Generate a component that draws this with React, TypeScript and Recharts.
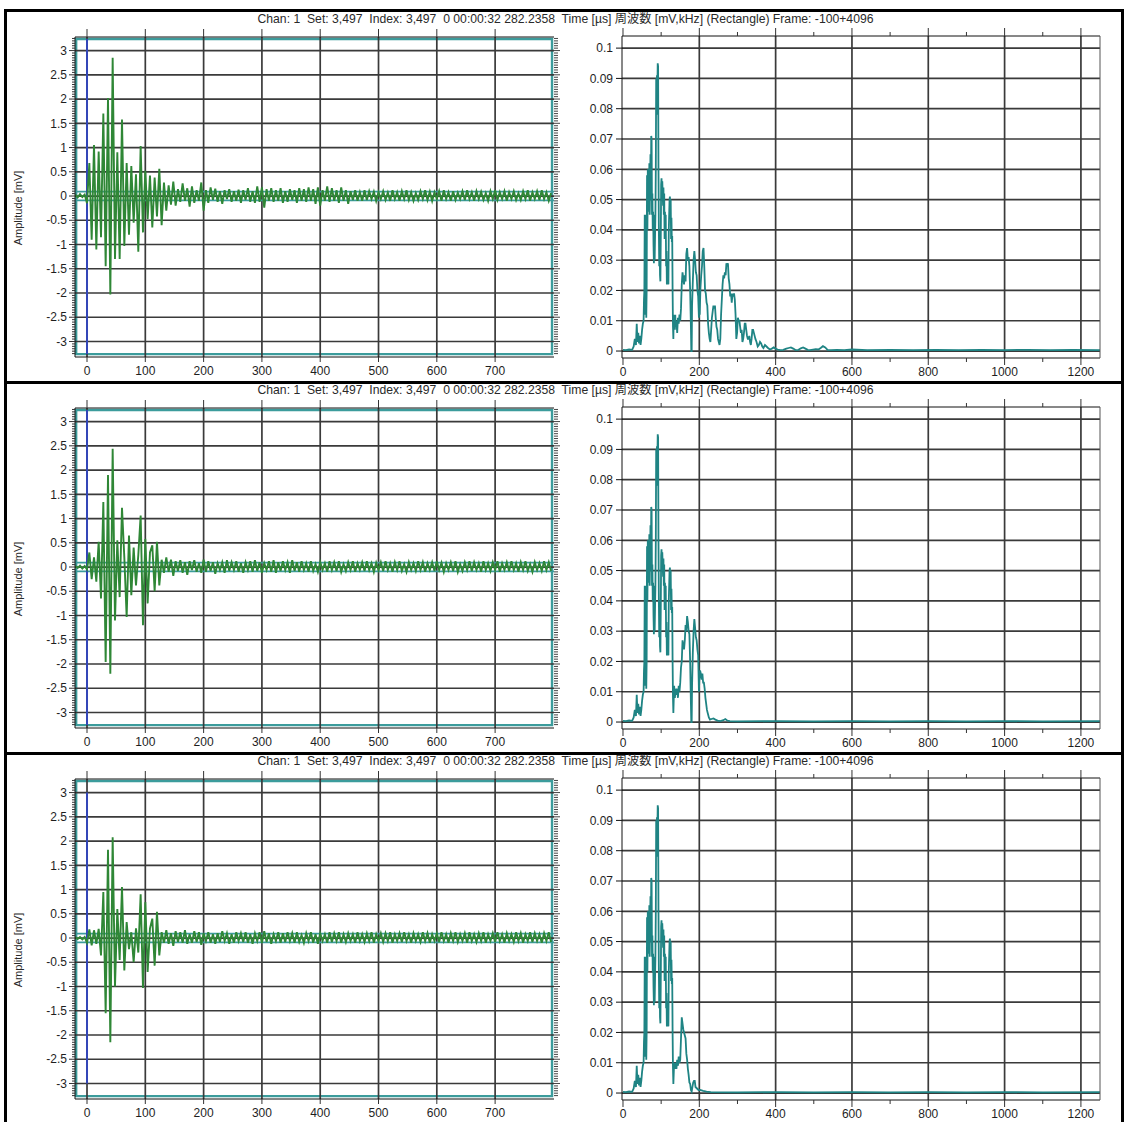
import React from "react";
import {
  Line,
  LineChart,
  ReferenceArea,
  ReferenceLine,
  XAxis,
  YAxis,
} from "recharts";

const FONT = "'Liberation Sans', Arial, 'Noto Sans CJK JP', sans-serif";

const TITLE =
  "Chan: 1  Set: 3,497  Index: 3,497  0 00:00:32 282.2358  Time [µs] 周波数 [mV,kHz] (Rectangle) Frame: -100+4096";

// Axis ticks
const TIME_TICKS = [0, 100, 200, 300, 400, 500, 600, 700];
const AMP_TICKS = [-3, -2.5, -2, -1.5, -1, -0.5, 0, 0.5, 1, 1.5, 2, 2.5, 3];
const FREQ_TICKS = [0, 100, 200, 300, 400, 500, 600, 700, 800, 900, 1000, 1100, 1200];
const FREQ_GRID = [200, 400, 600, 800, 1000, 1200];
const LEVEL_TICKS = [0, 0.01, 0.02, 0.03, 0.04, 0.05, 0.06, 0.07, 0.08, 0.09, 0.1];
// ruler marks every 0.05 mV along both sides of the waveform plot
const AMP_RULER = Array.from({ length: 131 }, (_, k) => Math.round((k - 65) * 5) / 100);

// Waveforms, mV, one sample every WAVE_DT µs starting at WAVE_T0
const WAVE_T0 = -20;
const WAVE_DT = 4;

const wave1 = [
  0.03, -0.03, 0.04, -0.02, 0.03, -0.15, 0.68, -0.9, 1.05, -1.1,
  0.92, -0.85, 1.7, -1.45, 2.02, -2.03, 2.85, -1.3, 0.9, -1.3,
  1.58, -1.03, 0.68, -0.8, 0.62, -0.55, 0.45, -1.15, 1.03, -0.75,
  0.52, -0.48, 0.42, -0.65, 0.38, -0.42, 0.56, -0.6, 0.28, -0.3,
  0.22, -0.18, 0.3, -0.2, 0.14, -0.12, 0.26, -0.1, 0.16, -0.22,
  0.2, -0.14, 0.12, -0.1, 0.28, -0.3, 0.12, -0.14, 0.18, -0.08,
  0.15, -0.12, 0.1, -0.16, 0.12, -0.06, 0.14, -0.12, 0.1, -0.1,
  0.13, -0.14, 0.12, -0.08, 0.16, -0.12, 0.1, -0.14, 0.2, -0.12,
  0.18, -0.24, 0.14, -0.1, 0.16, -0.12, 0.12, -0.1, 0.16, -0.14,
  0.1, -0.12, 0.14, -0.08, 0.12, -0.14, 0.16, -0.1, 0.14, -0.12,
  0.18, -0.1, 0.14, -0.16, 0.18, -0.2, 0.12, -0.1, 0.2, -0.12,
  0.16, -0.1, 0.12, -0.14, 0.18, -0.1, 0.12, -0.16, 0.1, -0.08,
  0.12, -0.1, 0.08, -0.1, 0.12, -0.08, 0.1, -0.06, 0.09, -0.1,
  0.08, -0.06, 0.1, -0.08, 0.07, -0.1, 0.12, -0.06, 0.08, -0.1,
  0.1, -0.06, 0.12, -0.08, 0.08, -0.1, 0.06, -0.08, 0.1, -0.06,
  0.12, -0.08, 0.09, -0.1, 0.08, -0.06, 0.1, -0.1, 0.12, -0.06,
  0.08, -0.1, 0.1, -0.08, 0.07, -0.06, 0.1, -0.08, 0.12, -0.06,
  0.08, -0.1, 0.1, -0.06, 0.09, -0.08, 0.06, -0.1, 0.1, -0.06,
  0.12, -0.08, 0.08, -0.06, 0.1, -0.1, 0.08, -0.06, 0.1, -0.08,
  0.06, -0.08, 0.1, -0.06, 0.12, -0.1, 0.08, -0.06, 0.1, -0.08,
  0.12, -0.06, 0.08, -0.1, 0.06,
];

const wave2 = [
  0.02, -0.02, 0.03, -0.03, 0.02, -0.05, 0.3, -0.25, 0.2, -0.3,
  0.52, -0.65, 1.34, -1.96, 1.9, -2.2, 2.44, -1.1, 0.55, -0.62,
  1.22, 0.2, -1.03, 0.65, -0.58, 0.4, -0.38, 0.25, 1.06, -1.2,
  0.58, -0.75, 0.3, 0.45, -0.5, 0.52, -0.38, 0.15, -0.12, 0.2,
  -0.1, 0.15, -0.18, 0.12, -0.08, 0.14, -0.12, 0.1, -0.16, 0.12,
  -0.06, 0.14, -0.1, 0.08, -0.12, 0.15, -0.1, 0.12, -0.08, 0.1,
  -0.14, 0.08, -0.06, 0.1, -0.12, 0.14, -0.08, 0.1, -0.06, 0.12,
  -0.1, 0.08, -0.12, 0.1, -0.06, 0.12, -0.1, 0.14, -0.08, 0.1,
  -0.12, 0.08, -0.06, 0.12, -0.1, 0.14, -0.12, 0.1, -0.08, 0.12,
  -0.06, 0.1, -0.12, 0.14, -0.08, 0.1, -0.1, 0.12, -0.06, 0.08,
  -0.1, 0.12, -0.08, 0.06, -0.1, 0.1, -0.06, 0.08, -0.1, 0.12,
  -0.06, 0.1, -0.08, 0.12, -0.1, 0.06, -0.08, 0.1, -0.06, 0.12,
  -0.1, 0.08, -0.06, 0.1, -0.08, 0.12, -0.06, 0.08, -0.1, 0.09,
  -0.06, 0.1, -0.08, 0.12, -0.06, 0.08, -0.1, 0.1, -0.06, 0.12,
  -0.08, 0.06, -0.1, 0.1, -0.06, 0.08, -0.08, 0.12, -0.06, 0.1,
  -0.1, 0.08, -0.06, 0.1, -0.08, 0.12, -0.06, 0.09, -0.1, 0.08,
  -0.06, 0.1, -0.08, 0.12, -0.1, 0.06, -0.08, 0.1, -0.06, 0.12,
  -0.08, 0.1, -0.06, 0.08, -0.1, 0.12, -0.06, 0.08, -0.08, 0.1,
  -0.06, 0.12, -0.1, 0.08, -0.06, 0.1, -0.08, 0.12, -0.06, 0.08,
  -0.1, 0.1, -0.06, 0.12, -0.08, 0.06, -0.1, 0.1, -0.06, 0.08,
  -0.08, 0.12, -0.06, 0.1, -0.08,
];

const wave3 = [
  0.02, -0.02, 0.02, -0.03, 0.02, -0.1, 0.18, -0.15, 0.16, -0.12,
  0.19, -0.36, 0.95, -1.55, 1.82, -2.15, 2.08, -1.0, 0.6, -0.45,
  1.05, -0.67, 0.33, -0.23, 0.12, -0.5, 0.2, -0.3, 0.9, -1.03,
  0.74, -0.7, 0.2, 0.4, -0.57, 0.54, -0.36, 0.12, -0.1, 0.16,
  -0.12, 0.1, -0.16, 0.14, -0.08, 0.12, -0.1, 0.16, -0.12, 0.08,
  -0.1, 0.14, -0.08, 0.12, -0.14, 0.1, -0.06, 0.12, -0.1, 0.08,
  -0.12, 0.1, -0.08, 0.14, -0.06, 0.1, -0.12, 0.08, -0.1, 0.12,
  -0.06, 0.1, -0.08, 0.12, -0.1, 0.08, -0.12, 0.1, -0.06, 0.12,
  -0.1, 0.14, -0.08, 0.1, -0.12, 0.08, -0.06, 0.12, -0.1, 0.1,
  -0.08, 0.12, -0.06, 0.1, -0.1, 0.12, -0.08, 0.06, -0.1, 0.1,
  -0.06, 0.12, -0.1, 0.08, -0.12, 0.1, -0.06, 0.08, -0.1, 0.12,
  -0.08, 0.1, -0.06, 0.12, -0.1, 0.08, -0.08, 0.1, -0.06, 0.08,
  -0.1, 0.12, -0.06, 0.08, -0.08, 0.1, -0.06, 0.12, -0.1, 0.08,
  -0.06, 0.1, -0.08, 0.1, -0.06, 0.12, -0.1, 0.08, -0.06, 0.1,
  -0.08, 0.12, -0.06, 0.08, -0.1, 0.1, -0.06, 0.08, -0.08, 0.12,
  -0.06, 0.1, -0.1, 0.08, -0.06, 0.1, -0.08, 0.12, -0.06, 0.08,
  -0.1, 0.1, -0.06, 0.12, -0.08, 0.08, -0.06, 0.1, -0.1, 0.12,
  -0.06, 0.08, -0.08, 0.1, -0.06, 0.12, -0.1, 0.08, -0.06, 0.1,
  -0.08, 0.12, -0.06, 0.08, -0.1, 0.1, -0.06, 0.08, -0.08, 0.12,
  -0.06, 0.1, -0.1, 0.08, -0.06, 0.12, -0.08, 0.1, -0.06, 0.08,
  -0.1, 0.1, -0.06, 0.12, -0.08,
];

// Spectra, [kHz, mV]; the band below 130 kHz is common to all three hits
const SPEC_LOW_BAND: [number, number][] = [
  [0, 0.0004], [8, 0.0003], [16, 0.0005], [24, 0.0004], [28, 0.0015], [31, 0.004],
  [34, 0.002], [36, 0.009], [38, 0.003], [40, 0.006], [42, 0.0025], [44, 0.005],
  [46, 0.002], [48, 0.004], [50, 0.007], [52, 0.009], [54, 0.01], [55, 0.017],
  [56, 0.02], [57, 0.045], [58, 0.03], [59, 0.012], [60, 0.045], [61, 0.011],
  [62, 0.02], [63, 0.058], [64, 0.04], [65, 0.06], [66, 0.05], [67, 0.058],
  [68, 0.046], [69, 0.062], [70, 0.045], [71, 0.055], [72, 0.065], [73, 0.05],
  [74, 0.071], [75, 0.07], [76, 0.045], [77, 0.052], [78, 0.04], [79, 0.046],
  [80, 0.035], [81, 0.029], [82, 0.045], [83, 0.03], [84, 0.038], [85, 0.045],
  [86, 0.06], [87, 0.09], [88, 0.078], [89, 0.091], [90, 0.085], [91, 0.095],
  [92, 0.094], [93, 0.06], [94, 0.04], [95, 0.028], [96, 0.04], [97, 0.025],
  [98, 0.023], [99, 0.037], [100, 0.055], [101, 0.057], [102, 0.05], [103, 0.056],
  [104, 0.052], [105, 0.048], [106, 0.054], [107, 0.045], [108, 0.052], [109, 0.037],
  [110, 0.046], [111, 0.038], [112, 0.045], [113, 0.028], [114, 0.033], [115, 0.022],
  [117, 0.03], [119, 0.022], [120, 0.04], [122, 0.05], [123, 0.051], [124, 0.045],
  [125, 0.05], [126, 0.037], [127, 0.044], [128, 0.036], [129, 0.038], [130, 0.02],
];

const spec1High: [number, number][] = [
  [131, 0.008], [132, 0.004], [133, 0.012], [134, 0.008], [135, 0.011], [136, 0.007],
  [137, 0.012], [138, 0.008], [140, 0.01], [142, 0.006], [144, 0.011], [146, 0.009],
  [148, 0.012], [150, 0.01], [152, 0.014], [154, 0.022], [156, 0.026], [158, 0.024],
  [160, 0.022], [162, 0.025], [164, 0.023], [166, 0.032], [168, 0.034], [170, 0.03],
  [172, 0.031], [174, 0.028], [176, 0.02], [178, 0.008], [179, 0], [180, 0],
  [181, 0.015], [183, 0.023], [185, 0.03], [187, 0.033], [189, 0.03], [191, 0.026],
  [193, 0.025], [195, 0.02], [197, 0.018], [199, 0.011], [200, 0.02], [201, 0.012],
  [203, 0.021], [205, 0.025], [207, 0.028], [209, 0.033], [211, 0.034], [213, 0.028],
  [215, 0.02], [217, 0.019], [219, 0.016], [221, 0.015], [223, 0.009], [225, 0.006],
  [227, 0.004], [229, 0.003], [231, 0.007], [233, 0.011], [235, 0.013], [237, 0.015],
  [239, 0.014], [241, 0.015], [243, 0.011], [245, 0.008], [247, 0.007], [249, 0.004],
  [251, 0.003], [253, 0.002], [255, 0.004], [257, 0.012], [259, 0.017], [261, 0.022],
  [263, 0.025], [265, 0.024], [267, 0.026], [269, 0.025], [271, 0.029], [273, 0.028],
  [275, 0.029], [277, 0.024], [279, 0.022], [281, 0.018], [283, 0.019], [285, 0.016],
  [287, 0.019], [289, 0.018], [291, 0.019], [293, 0.017], [295, 0.012], [297, 0.004],
  [299, 0.006], [301, 0.011], [303, 0.01], [305, 0.01], [307, 0.008], [309, 0.006],
  [311, 0.007], [313, 0.003], [315, 0.004], [317, 0.006], [319, 0.009], [321, 0.009],
  [323, 0.007], [325, 0.005], [327, 0.004], [329, 0.004], [331, 0.005], [333, 0.003],
  [335, 0.002], [337, 0.004], [339, 0.007], [341, 0.007], [343, 0.006], [345, 0.005],
  [347, 0.004], [350, 0.003], [353, 0.0015], [356, 0.002], [359, 0.003], [362, 0.0025],
  [365, 0.0015], [368, 0.001], [372, 0.002], [376, 0.0015], [380, 0.001], [385, 0.0005],
  [390, 0.0008], [395, 0.0012], [400, 0.0008], [405, 0.0005], [412, 0.0003], [420, 0.0004],
  [428, 0.0008], [434, 0.001], [440, 0.0012], [446, 0.0008], [452, 0.0003], [460, 0.0004],
  [466, 0.0009], [472, 0.0012], [478, 0.0008], [484, 0.0004], [490, 0.0003], [498, 0.0005],
  [505, 0.0006], [512, 0.0005], [518, 0.001], [524, 0.0016], [530, 0.0012], [536, 0.0004],
  [545, 0.0003], [560, 0.0004], [580, 0.0003], [600, 0.0005], [640, 0.0003], [700, 0.0004],
  [760, 0.0003], [820, 0.0004], [880, 0.0003], [940, 0.0004], [1000, 0.0003], [1060, 0.0004],
  [1120, 0.0003], [1180, 0.0004], [1250, 0.0003],
];

const spec2High: [number, number][] = [
  [131, 0.008], [132, 0.003], [134, 0.012], [136, 0.008], [138, 0.011], [140, 0.009],
  [142, 0.011], [144, 0.008], [146, 0.012], [148, 0.01], [150, 0.013], [152, 0.018],
  [154, 0.02], [156, 0.027], [158, 0.025], [160, 0.024], [162, 0.027], [164, 0.032],
  [166, 0.03], [168, 0.035], [170, 0.033], [172, 0.03], [174, 0.029], [176, 0.02],
  [178, 0.006], [179, 0], [180, 0], [181, 0.012], [183, 0.023], [185, 0.03],
  [187, 0.034], [189, 0.031], [191, 0.028], [193, 0.027], [195, 0.024], [197, 0.022],
  [199, 0.01], [200, 0.014], [202, 0.017], [204, 0.016], [206, 0.014], [208, 0.016],
  [210, 0.013], [212, 0.013], [214, 0.011], [216, 0.008], [218, 0.006], [220, 0.004],
  [222, 0.003], [225, 0.0015], [228, 0.0008], [232, 0.001], [237, 0.0012], [242, 0.0008],
  [248, 0.0005], [255, 0.0003], [263, 0.0006], [268, 0.001], [273, 0.0005], [280, 0.0003],
  [300, 0.0002], [400, 0.0003], [500, 0.0002], [600, 0.0003], [700, 0.0002], [800, 0.0003],
  [900, 0.0002], [1000, 0.0003], [1100, 0.0002], [1250, 0.0003],
];

const spec3High: [number, number][] = [
  [131, 0.008], [132, 0.003], [134, 0.01], [136, 0.008], [138, 0.01], [140, 0.008],
  [142, 0.011], [144, 0.009], [146, 0.012], [148, 0.01], [150, 0.011], [152, 0.018],
  [154, 0.025], [156, 0.023], [158, 0.021], [160, 0.02], [162, 0.019], [164, 0.018],
  [166, 0.013], [168, 0.011], [170, 0.008], [172, 0.006], [174, 0.0035], [176, 0.003],
  [178, 0.001], [180, 0.0005], [182, 0.002], [184, 0.0035], [186, 0.004], [188, 0.004],
  [190, 0.002], [194, 0.0015], [198, 0.001], [202, 0.001], [210, 0.0007], [219, 0.0005],
  [230, 0.0003], [300, 0.0002], [400, 0.0003], [500, 0.0002], [600, 0.0003], [700, 0.0002],
  [800, 0.0003], [900, 0.0002], [1000, 0.0003], [1100, 0.0002], [1250, 0.0003],
];

const WAVE_GREEN = "#2f8736";
const FRAME_TEAL = "#3c9c9c";
const SPEC_TEAL = "#1f8484";
const GRID = "#3a3a3a";
const INK = "#1e1e1e";
const TICK_FONT = 12;

const TIME_DOMAIN: [number, number] = [-20.6, 801];
const AMP_DOMAIN: [number, number] = [-3.32, 3.28];
const FREQ_DOMAIN: [number, number] = [-2.6, 1250];
const LEVEL_DOMAIN: [number, number] = [-0.0023, 0.104];

const isHalf = (v: number) => Math.abs(v * 2 - Math.round(v * 2)) < 1e-6 && Math.abs(v) <= 3;

function AmpTick({ x, y, payload }: any) {
  const major = isHalf(payload.value);
  return (
    <g>
      <line x1={x - (major ? 6 : 3)} x2={x} y1={y} y2={y} stroke="#333" />
      {major && (
        <text x={x - 8} y={y} dy="0.35em" textAnchor="end" fontSize={TICK_FONT} fill={INK} fontFamily={FONT}>
          {String(payload.value)}
        </text>
      )}
    </g>
  );
}

function AmpRulerRight({ x, y, payload }: any) {
  const major = isHalf(payload.value);
  return <line x1={x} x2={x + (major ? 6 : 4)} y1={y} y2={y} stroke="#444" />;
}

function TimeTick({ x, y, payload }: any) {
  return (
    <g>
      <line x1={x} x2={x} y1={y} y2={y + 5} stroke="#333" />
      <text x={x} y={y + 9} dy="0.71em" textAnchor="middle" fontSize={TICK_FONT} fill={INK} fontFamily={FONT}>
        {payload.value}
      </text>
    </g>
  );
}

function TopTick({ x, y }: any) {
  return <line x1={x} x2={x} y1={y} y2={y - 8} stroke="#333" />;
}

function FreqTick({ x, y, payload }: any) {
  const major = payload.value % 200 === 0;
  return (
    <g>
      <line x1={x} x2={x} y1={y} y2={y + (major ? 7 : 4)} stroke="#333" />
      {major && (
        <text x={x} y={y + 9} dy="0.71em" textAnchor="middle" fontSize={TICK_FONT} fill={INK} fontFamily={FONT}>
          {payload.value}
        </text>
      )}
    </g>
  );
}

function FreqTopTick({ x, y, payload }: any) {
  const major = payload.value % 200 === 0;
  return <line x1={x} x2={x} y1={y} y2={y - (major ? 8 : 4)} stroke="#333" />;
}

function WaveChart({ values, markerSpan }: { values: number[]; markerSpan: [number, number] }) {
  const data = values.map((v, i) => ({ t: WAVE_T0 + i * WAVE_DT, v }));
  return (
    <LineChart width={564} height={385} data={data} margin={{ top: 28, right: 0, bottom: 0, left: 0 }}>
      <XAxis
        dataKey="t"
        type="number"
        domain={TIME_DOMAIN}
        ticks={TIME_TICKS}
        interval={0}
        allowDataOverflow
        height={28}
        tickLine={false}
        tickSize={0}
        tickMargin={0}
        tick={<TimeTick />}
        stroke="#111"
      />
      <XAxis
        xAxisId="top"
        orientation="top"
        dataKey="t"
        type="number"
        domain={TIME_DOMAIN}
        ticks={TIME_TICKS}
        interval={0}
        allowDataOverflow
        height={9}
        tickLine={false}
        tickSize={0}
        tickMargin={0}
        tick={<TopTick />}
        stroke="#111"
      />
      <YAxis
        type="number"
        domain={AMP_DOMAIN}
        ticks={AMP_RULER}
        interval={0}
        allowDataOverflow
        width={75}
        tickLine={false}
        tickSize={0}
        tickMargin={0}
        tick={<AmpTick />}
        stroke="#111"
      />
      <YAxis
        yAxisId="ruler"
        orientation="right"
        type="number"
        domain={AMP_DOMAIN}
        ticks={AMP_RULER}
        interval={0}
        allowDataOverflow
        width={10}
        axisLine={false}
        tickLine={false}
        tickSize={0}
        tickMargin={0}
        tick={<AmpRulerRight />}
      />
      {AMP_TICKS.map((v) => (
        <ReferenceLine key={`h${v}`} y={v} stroke={GRID} strokeWidth={1.7} />
      ))}
      {TIME_TICKS.map((v) => (
        <ReferenceLine key={`v${v}`} x={v} stroke={GRID} strokeWidth={1.7} />
      ))}
      <ReferenceArea
        x1={-18.6}
        x2={797.6}
        y1={-3.26}
        y2={3.24}
        fill="none"
        fillOpacity={0}
        stroke={FRAME_TEAL}
        strokeWidth={2.4}
      />
      <ReferenceLine y={0.09} stroke={FRAME_TEAL} strokeWidth={1.6} />
      <ReferenceLine y={-0.09} stroke={FRAME_TEAL} strokeWidth={1.6} />
      <ReferenceLine
        segment={[
          { x: 0, y: markerSpan[0] },
          { x: 0, y: markerSpan[1] },
        ]}
        stroke="#3346b8"
        strokeWidth={2}
      />
      <Line
        type="linear"
        dataKey="v"
        stroke={WAVE_GREEN}
        strokeWidth={1.9}
        dot={false}
        isAnimationActive={false}
      />
    </LineChart>
  );
}

function SpectrumChart({ points }: { points: [number, number][] }) {
  const data = points.map(([f, a]) => ({ f, a }));
  return (
    <LineChart width={550} height={386} data={data} margin={{ top: 27, right: 0, bottom: 0, left: 0 }}>
      <XAxis
        dataKey="f"
        type="number"
        domain={FREQ_DOMAIN}
        ticks={FREQ_TICKS}
        interval={0}
        allowDataOverflow
        height={28}
        tickLine={false}
        tickSize={0}
        tickMargin={0}
        tick={<FreqTick />}
        stroke="#111"
      />
      <XAxis
        xAxisId="top"
        orientation="top"
        dataKey="f"
        type="number"
        domain={FREQ_DOMAIN}
        ticks={FREQ_TICKS}
        interval={0}
        allowDataOverflow
        height={9}
        tickLine={false}
        tickSize={0}
        tickMargin={0}
        tick={<FreqTopTick />}
        stroke="#111"
      />
      <YAxis
        type="number"
        domain={LEVEL_DOMAIN}
        ticks={LEVEL_TICKS}
        interval={0}
        allowDataOverflow
        width={62}
        tickSize={6}
        tickMargin={3}
        tickFormatter={(v: number) => String(+v.toFixed(2))}
        tick={{ fontSize: TICK_FONT, fill: INK, fontFamily: FONT }}
        stroke="#111"
      />
      <YAxis
        yAxisId="right"
        orientation="right"
        type="number"
        domain={LEVEL_DOMAIN}
        ticks={LEVEL_TICKS}
        interval={0}
        allowDataOverflow
        width={10}
        tickSize={6}
        tick={false}
        stroke="#555"
      />
      {LEVEL_TICKS.map((v) => (
        <ReferenceLine key={`h${v}`} y={v} stroke={GRID} strokeWidth={1.7} />
      ))}
      {FREQ_GRID.map((v) => (
        <ReferenceLine key={`v${v}`} x={v} stroke={GRID} strokeWidth={1.7} />
      ))}
      <Line
        type="linear"
        dataKey="a"
        stroke={SPEC_TEAL}
        strokeWidth={1.8}
        dot={false}
        isAnimationActive={false}
      />
    </LineChart>
  );
}

const ROW_PITCH = 371;

const rows: { wave: number[]; spectrum: [number, number][]; markerSpan: [number, number] }[] = [
  { wave: wave1, spectrum: SPEC_LOW_BAND.concat(spec1High), markerSpan: [-3.26, 3.24] },
  { wave: wave2, spectrum: SPEC_LOW_BAND.concat(spec2High), markerSpan: [-3.26, 3.24] },
  { wave: wave3, spectrum: SPEC_LOW_BAND.concat(spec3High), markerSpan: [-3, 3] },
];

export default function App() {
  return (
    <div
      style={{
        position: "absolute",
        left: 0,
        top: 0,
        width: 1125,
        height: 1122,
        overflow: "hidden",
        background: "#fff",
        fontFamily: FONT,
      }}
    >
      <div
        style={{
          position: "absolute",
          left: 4,
          top: 9,
          width: 1120,
          height: 1130,
          boxSizing: "border-box",
          borderTop: "3px solid #000",
          borderLeft: "3px solid #000",
          borderRight: "3px solid #000",
        }}
      />
      {[1, 2].map((r) => (
        <div
          key={r}
          style={{ position: "absolute", left: 4, top: r * ROW_PITCH + 10, width: 1120, height: 3, background: "#000" }}
        />
      ))}
      {rows.map((row, r) => {
        const top = r * ROW_PITCH;
        return (
          <React.Fragment key={r}>
            <div
              style={{
                position: "absolute",
                left: 0,
                width: 1131,
                top: top + 12,
                textAlign: "center",
                fontSize: 12.2,
                lineHeight: "14px",
                whiteSpace: "pre",
                color: "#2a2a2a",
              }}
            >
              {TITLE}
            </div>
            <div
              style={{
                position: "absolute",
                left: 18,
                top: top + 208,
                transform: "translate(-50%, -50%) rotate(-90deg)",
                whiteSpace: "nowrap",
                fontSize: 11,
                color: "#2a2a2a",
              }}
            >
              Amplitude [mV]
            </div>
            <div style={{ position: "absolute", left: 0, top }}>
              <WaveChart values={row.wave} markerSpan={row.markerSpan} />
            </div>
            <div style={{ position: "absolute", left: 560, top }}>
              <SpectrumChart points={row.spectrum} />
            </div>
          </React.Fragment>
        );
      })}
    </div>
  );
}
